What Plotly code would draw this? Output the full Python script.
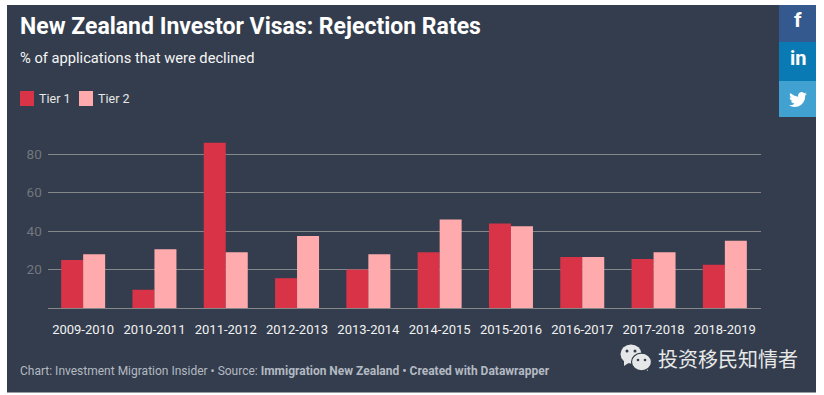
import plotly.graph_objects as go

# ---- data ----
categories = ["2009-2010", "2010-2011", "2011-2012", "2012-2013", "2013-2014",
              "2014-2015", "2015-2016", "2016-2017", "2017-2018", "2018-2019"]
tier1 = [25, 9.5, 86, 15.5, 20, 29, 44, 26.5, 25.5, 22.5]
tier2 = [28, 30.5, 29, 37.5, 28, 46, 42.5, 26.5, 29, 35]
y_ticks = [20, 40, 60, 80]

TITLE = "New Zealand Investor Visas: Rejection Rates"
SUBTITLE = "% of applications that were declined"
FOOTER = ("Chart: Investment Migration Insider • Source: "
          "<b>Immigration New Zealand • Created with Datawrapper</b>")
WATERMARK = "投资移民知情者"

# ---- styling ----
W, H = 824, 395
PANEL = "#333d4d"
RED = "#d93348"
PINK = "#ffabad"
GRID = "#85878b"
FONT = "Roboto"


def px(x):
    return x / W


def py(y):
    return 1 - y / H


def rect(x0, y0, x1, y1, color, layer="above"):
    return dict(type="rect", xref="paper", yref="paper", x0=px(x0), x1=px(x1),
                y0=py(y1), y1=py(y0), fillcolor=color, line_width=0, layer=layer)


def circle(cx, cy, rx, ry, color, line=None):
    return dict(type="circle", xref="paper", yref="paper", x0=px(cx - rx), x1=px(cx + rx),
                y0=py(cy + ry), y1=py(cy - ry), fillcolor=color,
                line=dict(color=line, width=1.2) if line else dict(width=0), layer="above")


def poly(points, color):
    d = "M" + "L".join(f"{px(a):.5f},{py(b):.5f}" for a, b in points) + "Z"
    return dict(type="path", xref="paper", yref="paper", path=d, fillcolor=color,
                line_width=0, layer="above")


def text(x, y, s, size, color, anchor="left", family=FONT):
    return dict(xref="paper", yref="paper", x=px(x), y=py(y), text=s, showarrow=False,
                xanchor=anchor, yanchor="middle", align="left",
                font=dict(family=family, size=size, color=color))


bird_outline = [(24, 4.6), (21.2, 5.4), (23.3, 2.6), (20.2, 3.8), (18.5, 2.5), (16.4, 2), (14, 3),
                (12.4, 5), (12.1, 7), (12.2, 8.2), (7.5, 7), (4, 5), (1.6, 3.2), (1, 5.6), (1.6, 8),
                (3.2, 9.7), (0.9, 9.1), (1.3, 11.3), (2.6, 13), (4.9, 14), (2.7, 14.1), (3.8, 16),
                (5.5, 17.1), (7.5, 17.5), (4.5, 19.2), (0, 19.8), (3.5, 21.3), (7.5, 22), (12, 21.3),
                (16, 19.2), (19, 16), (20.8, 12.5), (21.5, 9), (21.5, 7)]
bird = [(789 + a * 0.75, 90.5 + b * 0.75) for a, b in bird_outline]

BUBBLE = "#e6e7e8"
shapes = [
    rect(7, 5, 816, 392.5, PANEL, "below"),
    rect(779, 5, 816, 42, "#33598f"),
    rect(779, 42, 816, 81, "#0a7ab5"),
    rect(779, 81, 816, 117, "#41a1d0"),
    poly(bird, "#ffffff"),
    rect(20, 91, 34, 106, RED),
    rect(79, 91, 93, 106, PINK),
    # WeChat mark
    poly([(624, 359), (624, 366), (630, 362)], BUBBLE),
    circle(631, 354, 10.5, 9.5, BUBBLE),
    circle(627, 351, 1.5, 1.5, PANEL),
    circle(635, 351, 1.5, 1.5, PANEL),
    poly([(647, 364), (648, 371), (642, 367)], BUBBLE),
    circle(641.5, 362, 10, 8.8, BUBBLE, PANEL),
    circle(638, 360, 1.3, 1.3, PANEL),
    circle(645, 360, 1.3, 1.3, PANEL),
]

annotations = [
    text(18, 26, f"<b>{TITLE}</b>", 23, "#ffffff"),
    text(18, 58, SUBTITLE, 14.7, "#f5f5f5"),
    text(37, 98, "Tier 1", 12.5, "#e8e8e8"),
    text(96, 98, "Tier 2", 12.5, "#e8e8e8"),
    text(18, 371, FOOTER, 12, "#b4bac2"),
    text(656, 358.5, WATERMARK, 20, "#e8e8e8", family="Noto Sans CJK SC"),
    text(798, 20, "<b>f</b>", 21, "#ffffff", "center"),
    text(798, 58, "<b>in</b>", 20, "#ffffff", "center"),
]

fig = go.Figure()
fig.add_bar(x=categories, y=tier1, name="Tier 1", marker=dict(color=RED, line_width=0))
fig.add_bar(x=categories, y=tier2, name="Tier 2", marker=dict(color=PINK, line_width=0))

fig.update_layout(
    width=W, height=H, margin=dict(l=0, r=0, t=0, b=0, pad=0),
    paper_bgcolor="#ffffff", plot_bgcolor="rgba(0,0,0,0)",
    barmode="group", bargap=0.383, bargroupgap=0, showlegend=False,
    font=dict(family=FONT), shapes=shapes, annotations=annotations,
    xaxis=dict(domain=[47.5 / W, 760.5 / W], type="category", showgrid=False,
               showline=True, linecolor=GRID, linewidth=1,
               ticks="outside", ticklen=9, tickcolor="rgba(0,0,0,0)",
               tickfont=dict(family=FONT, size=13, color="#f2f2f2"), tickangle=0),
    yaxis=dict(domain=[(H - 308) / H, (H - 130) / H], range=[0, 92.6],
               tickvals=y_ticks, showgrid=True, gridcolor=GRID, gridwidth=1,
               zeroline=False, showline=False,
               ticks="outside", ticklen=2, tickcolor="rgba(0,0,0,0)",
               tickfont=dict(family=FONT, size=13.5, color="#73777d")),
)

fig.write_html("out.html", config=dict(displayModeBar=False),
               post_script="document.body.style.margin='0';")
